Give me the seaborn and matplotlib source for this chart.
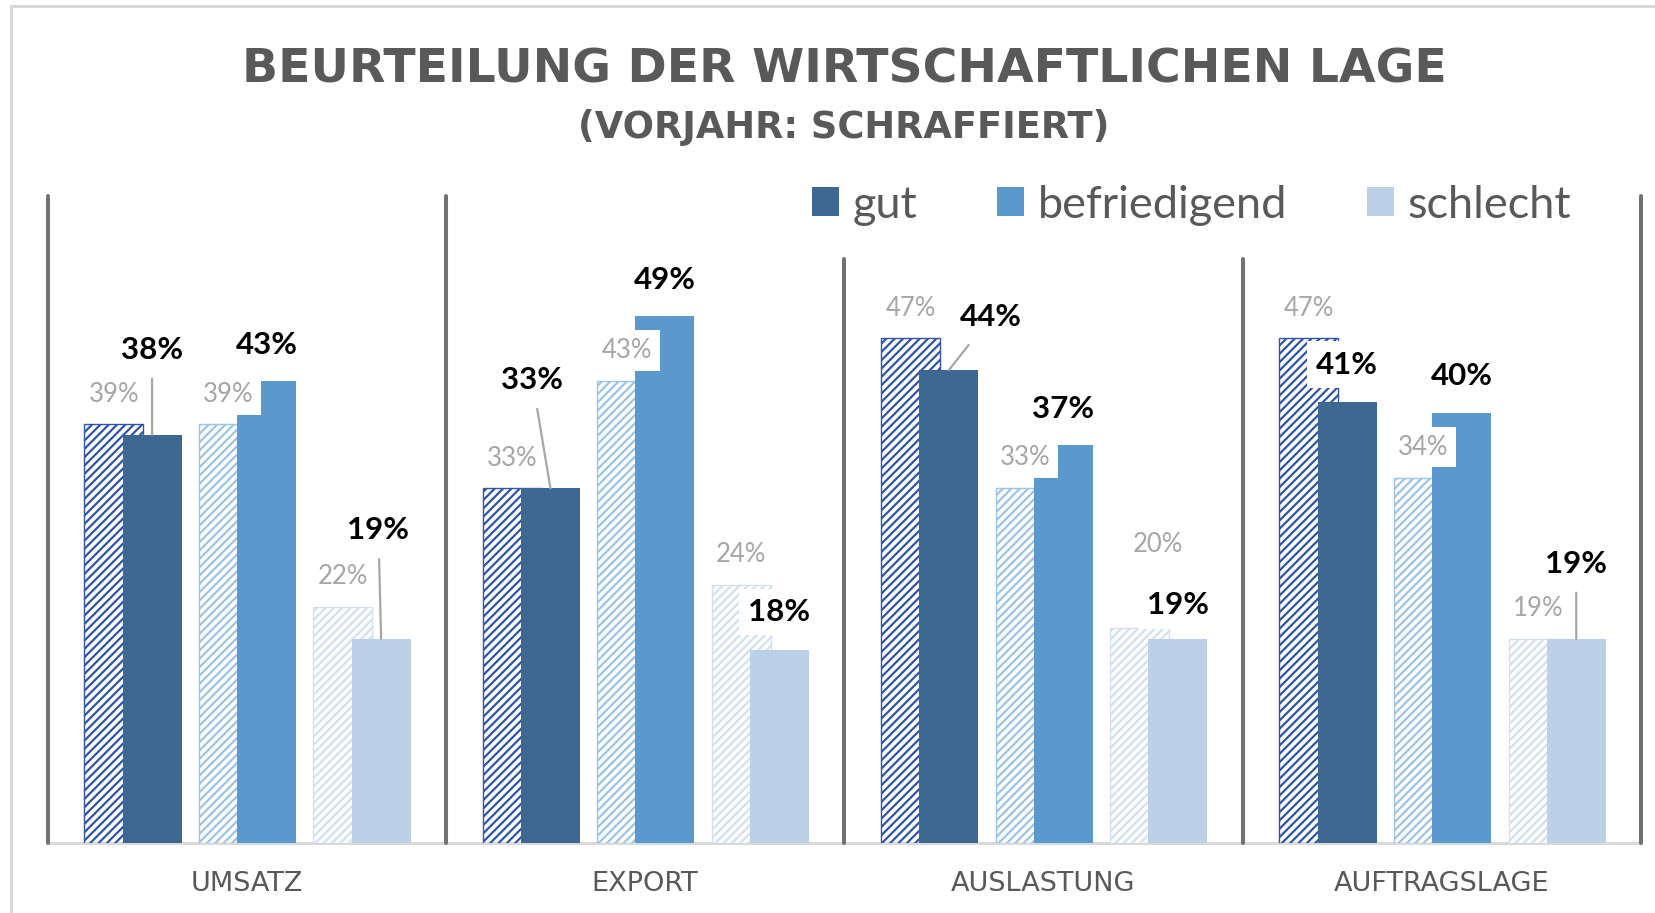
import numpy as np
import pandas as pd
import matplotlib
matplotlib.use("Agg")
import matplotlib.pyplot as plt
import seaborn as sns
from matplotlib.patches import Patch, Rectangle

# ---------------- data ----------------
bereiche = ["UMSATZ", "EXPORT", "AUSLASTUNG", "AUFTRAGSLAGE"]
bewertungen = ["gut", "befriedigend", "schlecht"]

vorjahr_gut = [39, 33, 47, 47]
vorjahr_befriedigend = [39, 43, 33, 34]
vorjahr_schlecht = [22, 24, 20, 19]

aktuell_gut = [38, 33, 44, 41]
aktuell_befriedigend = [43, 49, 37, 40]
aktuell_schlecht = [19, 18, 19, 19]

title = "BEURTEILUNG DER WIRTSCHAFTLICHEN LAGE"
subtitle = "(VORJAHR: SCHRAFFIERT)"

# ---------------- styling / layout ----------------
solid_colors = ["#3C6891", "#5B98CD", "#BCD0E8"]
hatch_colors = ["#2F55A6", "#9DC3E6", "#D3E0F2"]

# label offsets in points (dx, dy) per rating, per area
prev_offsets = [
    [(0, 21), (0, 21.5), (0, 21.5), (0, 21.5)],
    [(0, 21), (0, 22), (0, 22), (0, 22)],
    [(0, 21.5), (0, 22), (13, 60), (0, 22)],
]
cur_offsets = [
    [(0, 61), (-13, 78), (30, 38), (0, 27)],
    [(0, 25.5), (0, 26.5), (0, 26.5), (0, 26.5)],
    [(-2, 78), (0, 27), (0, 24), (0, 54)],
]
cur_leader = [
    [True, True, True, False],
    [False, False, False, False],
    [True, False, False, True],
]

sns.set_theme(style="white")
plt.rcParams["font.family"] = ["Lato", "DejaVu Sans"]
plt.rcParams["hatch.linewidth"] = 1.6

W_PX, H_PX = 1655, 913
fig = plt.figure(figsize=(W_PX / 100, H_PX / 100), dpi=100)
fig.patch.set_facecolor("white")

left, right, bottom, top = 47.5, 1641, 843, 196
rect = [left / W_PX, 1 - bottom / H_PX, (right - left) / W_PX, (bottom - top) / H_PX]
ymax = 60.2
n = len(bereiche)

# base axes: separators, baseline, category labels
ax = fig.add_axes(rect)
ax.set_xlim(-0.5, n - 0.5)
ax.set_ylim(0, ymax)
ax.set_xticks(range(n))
ax.set_xticklabels(bereiche, fontsize=19.5, color="#595959",
                   family=["DejaVu Sans"])
ax.tick_params(axis="x", length=0, pad=20)
ax.set_yticks([])
for s in ax.spines.values():
    s.set_visible(False)
ax.axhline(0, color="#D9D9D9", lw=2.2, zorder=0, clip_on=False)
sep_heights = [1, 1, 0.903, 0.903, 1]
for x, h in zip(np.arange(n + 1) - 0.5, sep_heights):
    ax.axvline(x, 0, h, color="#767171", lw=2.9, clip_on=False, zorder=1)

group_width = 0.8625
gap = 0.485
prev_shift = 0.046
cur_shift = -0.05

prev_df = pd.DataFrame({
    "Bereich": bereiche * 3,
    "Bewertung": np.repeat(bewertungen, n),
    "Anteil": vorjahr_gut + vorjahr_befriedigend + vorjahr_schlecht,
})
cur_df = pd.DataFrame({
    "Bereich": bereiche * 3,
    "Bewertung": np.repeat(bewertungen, n),
    "Anteil": aktuell_gut + aktuell_befriedigend + aktuell_schlecht,
})
prev_vals = [vorjahr_gut, vorjahr_befriedigend, vorjahr_schlecht]
cur_vals = [aktuell_gut, aktuell_befriedigend, aktuell_schlecht]

# previous year (hatched)
ax_prev = fig.add_axes(rect)
sns.barplot(data=prev_df, x="Bereich", y="Anteil", hue="Bewertung",
            order=bereiche, hue_order=bewertungen,
            palette=dict(zip(bewertungen, hatch_colors)), saturation=1,
            width=group_width, gap=gap, errorbar=None, legend=False, ax=ax_prev)
ax_prev.set_xlim(-0.5 + prev_shift, n - 0.5 + prev_shift)
ax_prev.set_ylim(0, ymax)
ax_prev.axis("off")
for cont, col in zip(ax_prev.containers, hatch_colors):
    for bar in cont:
        bar.set_facecolor("white")
        bar.set_edgecolor(col)
        bar.set_hatch("////")
        bar.set_linewidth(1.0)

# current year (solid)
ax_cur = fig.add_axes(rect)
sns.barplot(data=cur_df, x="Bereich", y="Anteil", hue="Bewertung",
            order=bereiche, hue_order=bewertungen,
            palette=dict(zip(bewertungen, solid_colors)), saturation=1,
            width=group_width, gap=gap, errorbar=None, legend=False, ax=ax_cur)
ax_cur.set_xlim(-0.5 + cur_shift, n - 0.5 + cur_shift)
ax_cur.set_ylim(0, ymax)
ax_cur.axis("off")
for cont in ax_cur.containers:
    for bar in cont:
        bar.set_edgecolor("none")
        bar.set_linewidth(0)

# data labels (all drawn on the top axes)
for hi in range(len(bewertungen)):
    for ci in range(n):
        bar = ax_prev.containers[hi][ci]
        xb = bar.get_x() + bar.get_width() / 2
        yb = bar.get_height()
        ax_cur.annotate(f"{prev_vals[hi][ci]}%", xy=(xb, yb), xycoords=ax_prev.transData,
                        xytext=prev_offsets[hi][ci], textcoords="offset points",
                        ha="center", va="center", fontsize=18.5, color="#A6A6A6",
                        bbox=dict(boxstyle="square,pad=0.3", fc="white", ec="none"),
                        zorder=5, annotation_clip=False)
for hi in range(len(bewertungen)):
    for ci in range(n):
        bar = ax_cur.containers[hi][ci]
        xb = bar.get_x() + bar.get_width() / 2
        yb = bar.get_height()
        arrow = None
        if cur_leader[hi][ci]:
            arrow = dict(arrowstyle="-", color="#A6A6A6", lw=1.6, shrinkA=4, shrinkB=0)
        ax_cur.annotate(f"{cur_vals[hi][ci]}%", xy=(xb, yb), xycoords="data",
                        xytext=cur_offsets[hi][ci], textcoords="offset points",
                        ha="center", va="center", fontsize=22.5, fontweight="bold",
                        color="black",
                        bbox=dict(boxstyle="square,pad=0.3", fc="white", ec="none"),
                        arrowprops=arrow, zorder=6, annotation_clip=False)

# legend
handles = [Patch(facecolor=c, edgecolor="none") for c in solid_colors]
fig.legend(handles, bewertungen, loc="center left",
           bbox_to_anchor=(812 / W_PX, 1 - 205 / H_PX), ncol=3, frameon=False,
           fontsize=32.5, labelcolor="#595959", handlelength=0.6, handleheight=0.6,
           handletextpad=0.29, columnspacing=1.78, borderpad=0, borderaxespad=0)

# titles
fig.text(844 / W_PX, 1 - 70 / H_PX, title, ha="center", va="center",
         fontsize=34, fontweight="bold", color="#595959",
         family=["DejaVu Sans"])
fig.text(844 / W_PX, 1 - 127 / H_PX, subtitle, ha="center", va="center",
         fontsize=26.5, fontweight="bold", color="#595959",
         family=["DejaVu Sans"])

# chart border
fig.add_artist(Rectangle((10.5 / W_PX, -0.1), 1.2, 1.1 - 6.5 / H_PX,
                         transform=fig.transFigure, fill=False,
                         ec="#D9D9D9", lw=2.2))

fig.savefig("out.png", dpi=100)
